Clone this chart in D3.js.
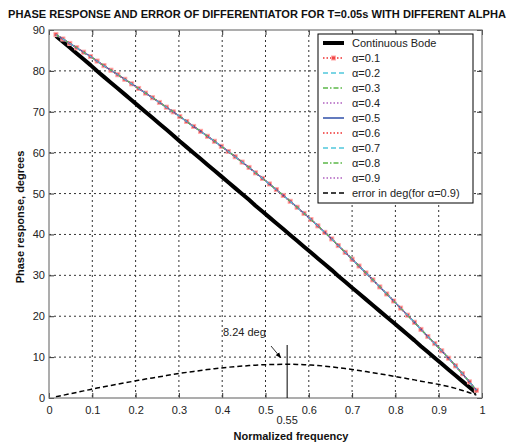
<!DOCTYPE html>
<html>
<head>
<meta charset="utf-8">
<script src="https://cdnjs.cloudflare.com/ajax/libs/d3/7.8.5/d3.min.js"></script>
<style>
  html, body { margin: 0; padding: 0; background: #fff; }
  svg { display: block; }
  text { font-family: Arial, "Liberation Sans", Helvetica, sans-serif; }
</style>
</head>
<body>
<div id="chart"></div>
<script>
// ---------------- data ----------------
const titleText = "PHASE RESPONSE AND ERROR OF DIFFERENTIATOR FOR T=0.05s WITH DIFFERENT ALPHA";
const xLabelText = "Normalized frequency";
const yLabelText = "Phase response, degrees";

const xTicks = [0, 0.1, 0.2, 0.3, 0.4, 0.5, 0.6, 0.7, 0.8, 0.9, 1];
const xTickLabels = ["0", "0.1", "0.2", "0.3", "0.4", "0.5", "0.6", "0.7", "0.8", "0.9", "1"];
const yTicks = [0, 10, 20, 30, 40, 50, 60, 70, 80, 90];
const yTickLabels = ["0", "10", "20", "30", "40", "50", "60", "70", "80", "90"];

// normalized frequency samples (w = 1..62 rad/s over the Nyquist 20*pi)
const freq = [
  0.016, 0.032, 0.048, 0.064, 0.080, 0.096, 0.111, 0.127, 0.143, 0.159,
  0.175, 0.191, 0.207, 0.223, 0.239, 0.255, 0.271, 0.287, 0.302, 0.318,
  0.334, 0.350, 0.366, 0.382, 0.398, 0.414, 0.430, 0.446, 0.462, 0.477,
  0.493, 0.509, 0.525, 0.541, 0.557, 0.573, 0.589, 0.605, 0.621, 0.637,
  0.653, 0.668, 0.684, 0.700, 0.716, 0.732, 0.748, 0.764, 0.780, 0.796,
  0.812, 0.828, 0.844, 0.859, 0.875, 0.891, 0.907, 0.923, 0.939, 0.955,
  0.971, 0.987
];

// continuous Bode phase (degrees)
const bodePhase = [
  88.57, 87.14, 85.70, 84.27, 82.84, 81.41, 79.98, 78.54, 77.11, 75.68,
  74.25, 72.81, 71.38, 69.95, 68.52, 67.09, 65.65, 64.22, 62.79, 61.36,
  59.92, 58.49, 57.06, 55.63, 54.20, 52.76, 51.33, 49.90, 48.47, 47.03,
  45.60, 44.17, 42.74, 41.31, 39.87, 38.44, 37.01, 35.58, 34.14, 32.71,
  31.28, 29.85, 28.42, 26.98, 25.55, 24.12, 22.69, 21.25, 19.82, 18.39,
  16.96, 15.53, 14.09, 12.66, 11.23, 9.80, 8.36, 6.93, 5.50, 4.07,
  2.64, 1.20
];

// discrete differentiator phase (degrees); all alpha curves overlap in the picture
const discretePhase = [
  88.87, 87.80, 86.72, 85.65, 84.58, 83.51, 82.40, 81.28, 80.17, 79.06,
  77.95, 76.83, 75.71, 74.57, 73.43, 72.29, 71.13, 69.98, 68.82, 67.63,
  66.42, 65.22, 64.01, 62.79, 61.56, 60.29, 59.00, 57.70, 56.39, 55.06,
  53.72, 52.35, 50.96, 49.55, 48.11, 46.65, 45.16, 43.65, 42.09, 40.51,
  38.90, 37.27, 35.63, 33.96, 32.28, 30.58, 28.88, 27.16, 25.44, 23.72,
  21.99, 20.26, 18.52, 16.78, 15.04, 13.30, 11.53, 9.73, 7.85, 5.92,
  3.94, 1.90
];

// error in degrees (alpha = 0.9)
const errorDeg = [
  0.30, 0.66, 1.02, 1.38, 1.74, 2.10, 2.42, 2.74, 3.06, 3.38,
  3.70, 4.02, 4.33, 4.62, 4.91, 5.20, 5.48, 5.76, 6.03, 6.27,
  6.50, 6.73, 6.95, 7.16, 7.36, 7.53, 7.67, 7.80, 7.92, 8.03,
  8.12, 8.18, 8.22, 8.24, 8.24, 8.21, 8.15, 8.07, 7.95, 7.80,
  7.62, 7.42, 7.21, 6.98, 6.73, 6.46, 6.19, 5.91, 5.62, 5.33,
  5.03, 4.73, 4.43, 4.12, 3.81, 3.50, 3.17, 2.80, 2.35, 1.85,
  1.30, 0.70
];

const alphas = [0.1, 0.2, 0.3, 0.4, 0.5, 0.6, 0.7, 0.8, 0.9];
const alphaLabels = ["α=0.1", "α=0.2", "α=0.3", "α=0.4", "α=0.5", "α=0.6", "α=0.7", "α=0.8", "α=0.9"];
const bodeLabel = "Continuous Bode";
const errorLabel = "error in deg(for α=0.9)";

const peakFreq = 0.55;
const peakLabel = "8.24 deg";
const peakTickLabel = "0.55";

// ---------------- styles ----------------
const alphaColors = ["#f03030", "#50c8dc", "#5cb848", "#b060c0", "#2f4fa8", "#f03030", "#50c8dc", "#5cb848", "#b060c0"];
const alphaDash = ["1.5,2", "5,3", "5,2,1.5,2", "1.5,2", null, "1.5,2", "5,3", "5,2,1.5,2", "1.5,2"];

// ---------------- layout ----------------
const W = 520, H = 446;
const L = 49, R = 482, T = 30, B = 398;

const svg = d3.select("#chart").append("svg").attr("width", W).attr("height", H);

const x = d3.scaleLinear().domain([0, 1]).range([L, R]);
const y = d3.scaleLinear().domain([0, 90]).range([B, T]);

// title
svg.append("text")
  .attr("x", 8).attr("y", 18)
  .attr("font-size", 10.5).attr("font-weight", "bold").attr("fill", "#111")
  .attr("textLength", 498).attr("lengthAdjust", "spacingAndGlyphs")
  .text(titleText);

// grid
const grid = svg.append("g");
grid.selectAll("line.gx").data(xTicks.slice(1, -1)).join("line")
  .attr("x1", d => x(d)).attr("x2", d => x(d)).attr("y1", T).attr("y2", B)
  .attr("stroke", "#333").attr("stroke-width", 1).attr("stroke-dasharray", "2,3");
grid.selectAll("line.gy").data(yTicks.slice(1, -1)).join("line")
  .attr("x1", L).attr("x2", R).attr("y1", d => y(d)).attr("y2", d => y(d))
  .attr("stroke", "#333").attr("stroke-width", 1).attr("stroke-dasharray", "2,3");

// axes via d3
const xAxisB = d3.axisBottom(x).tickValues(xTicks).tickFormat((d, i) => xTickLabels[i]).tickSize(-5).tickPadding(8);
const xAxisT = d3.axisTop(x).tickValues(xTicks).tickFormat("").tickSize(-5);
const yAxisL = d3.axisLeft(y).tickValues(yTicks).tickFormat((d, i) => yTickLabels[i]).tickSize(-5).tickPadding(8);
const yAxisR = d3.axisRight(y).tickValues(yTicks).tickFormat("").tickSize(-5);

function styleAxis(g) {
  g.select(".domain").remove();
  g.selectAll("line").attr("stroke", "#333");
  g.selectAll("text").attr("font-size", 11).attr("fill", "#222")
    .attr("font-family", "Arial, 'Liberation Sans', sans-serif");
}
svg.append("g").attr("transform", `translate(0,${B})`).call(xAxisB).call(styleAxis)
  .selectAll("text").attr("dy", "0.71em");
svg.append("g").attr("transform", `translate(0,${T})`).call(xAxisT).call(styleAxis);
svg.append("g").attr("transform", `translate(${L},0)`).call(yAxisL).call(styleAxis)
  .selectAll("text").attr("x", -4);
svg.append("g").attr("transform", `translate(${R},0)`).call(yAxisR).call(styleAxis);

// extra tick label 0.55
svg.append("text")
  .attr("x", x(peakFreq)).attr("y", 424)
  .attr("text-anchor", "middle").attr("font-size", 11).attr("fill", "#222")
  .text(peakTickLabel);

// axis labels
svg.append("text")
  .attr("x", 291).attr("y", 440)
  .attr("text-anchor", "middle").attr("font-size", 11).attr("font-weight", "bold").attr("fill", "#111")
  .text(xLabelText);
svg.append("text")
  .attr("transform", "translate(24,217) rotate(-90)")
  .attr("text-anchor", "middle").attr("font-size", 11).attr("font-weight", "bold").attr("fill", "#111")
  .text(yLabelText);

// clip
svg.append("clipPath").attr("id", "clip").append("rect")
  .attr("x", L).attr("y", T - 3).attr("width", R - L).attr("height", B - T + 3);
const plot = svg.append("g").attr("clip-path", "url(#clip)");

const lineOf = arr => d3.line().x((d, i) => x(freq[i])).y((d, i) => y(arr[i]));

// error curve
plot.append("path").datum(errorDeg)
  .attr("d", lineOf(errorDeg))
  .attr("fill", "none").attr("stroke", "#000").attr("stroke-width", 1.5)
  .attr("stroke-dasharray", "5,3");

// continuous bode
plot.append("path").datum(bodePhase)
  .attr("d", lineOf(bodePhase))
  .attr("fill", "none").attr("stroke", "#000").attr("stroke-width", 4)
  .attr("stroke-linejoin", "round");

// markers for alpha=0.1 (drawn below the overlapping lines)
plot.selectAll("rect.mk").data(discretePhase).join("rect")
  .attr("x", (d, i) => x(freq[i]) - 2).attr("y", d => y(d) - 2)
  .attr("width", 4).attr("height", 4)
  .attr("fill", "#f04848").attr("stroke", "#ffa8a8").attr("stroke-width", 1);

// alpha lines
alphas.forEach((a, k) => {
  plot.append("path").datum(discretePhase)
    .attr("d", lineOf(discretePhase))
    .attr("fill", "none").attr("stroke", alphaColors[k]).attr("stroke-width", 1.2)
    .attr("stroke-dasharray", alphaDash[k]);
});

// frame
svg.append("rect")
  .attr("x", L).attr("y", T).attr("width", R - L).attr("height", B - T)
  .attr("fill", "none").attr("stroke", "#777").attr("stroke-width", 1.2);

// annotation
svg.append("line")
  .attr("x1", x(peakFreq)).attr("x2", x(peakFreq)).attr("y1", 345).attr("y2", B)
  .attr("stroke", "#000").attr("stroke-width", 1);
svg.append("text")
  .attr("x", 223).attr("y", 336).attr("font-size", 11).attr("fill", "#222")
  .text(peakLabel);
svg.append("defs").append("marker")
  .attr("id", "arrow").attr("viewBox", "0 0 10 10").attr("refX", 10).attr("refY", 5)
  .attr("markerWidth", 7).attr("markerHeight", 7).attr("orient", "auto")
  .append("path").attr("d", "M0,1 L10,5 L0,9 Z").attr("fill", "#000");
svg.append("line")
  .attr("x1", 271).attr("y1", 346).attr("x2", 281).attr("y2", 358)
  .attr("stroke", "#000").attr("stroke-width", 0.8).attr("marker-end", "url(#arrow)");

// legend
const lg = svg.append("g");
const LX = 318, LY = 34, LW = 155, LH = 169;
lg.append("rect").attr("x", LX).attr("y", LY).attr("width", LW).attr("height", LH)
  .attr("fill", "#fff").attr("stroke", "#000").attr("stroke-width", 1);

const entries = [{ label: bodeLabel, color: "#000", dash: null, width: 4 }]
  .concat(alphas.map((a, k) => ({ label: alphaLabels[k], color: alphaColors[k], dash: alphaDash[k], width: 1.5, marker: k === 0 })))
  .concat([{ label: errorLabel, color: "#000", dash: "5,3", width: 1.5 }]);

entries.forEach((e, i) => {
  const cy = 43 + i * 15;
  lg.append("line").attr("x1", 323).attr("x2", 344).attr("y1", cy).attr("y2", cy)
    .attr("stroke", e.color).attr("stroke-width", e.width).attr("stroke-dasharray", e.dash);
  if (e.marker) {
    lg.append("rect").attr("x", 333.5 - 2).attr("y", cy - 2).attr("width", 4).attr("height", 4)
      .attr("fill", "#f04848").attr("stroke", "#ffa8a8").attr("stroke-width", 1);
  }
  lg.append("text").attr("x", 352).attr("y", cy + 4).attr("font-size", 11).attr("fill", "#222")
    .text(e.label);
});
</script>
</body>
</html>
